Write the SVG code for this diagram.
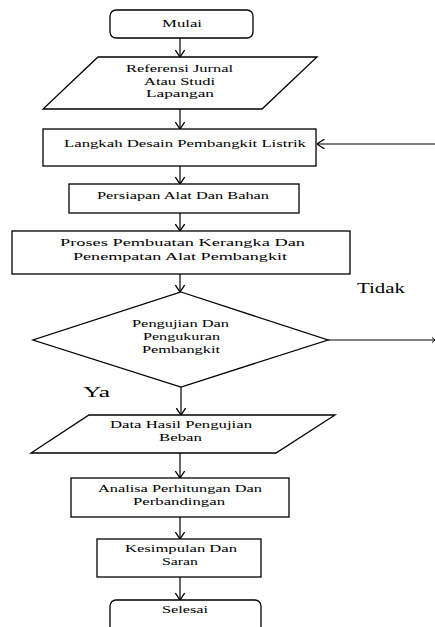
<svg xmlns="http://www.w3.org/2000/svg" width="435" height="627" viewBox="0 0 435 627">
<style>
.s{fill:#fff;stroke:#000;stroke-width:1.3}
.c{fill:none;stroke:#000;stroke-width:1.2}
text{font-family:"Liberation Serif","DejaVu Serif",serif;fill:#000}
.t{font-size:11px;text-anchor:middle}
.l{font-size:15px}
</style>
<defs>
<marker id="ah" viewBox="0 0 8 10" refX="7.5" refY="5" markerWidth="8" markerHeight="10" markerUnits="userSpaceOnUse" orient="auto">
<path d="M0,0 L7.5,5 L0,10" fill="none" stroke="#000" stroke-width="1.3"/>
</marker>
<marker id="ahs" viewBox="0 0 4 6" refX="3.5" refY="3" markerWidth="4" markerHeight="6" markerUnits="userSpaceOnUse" orient="auto">
<path d="M0,0 L3.5,3 L0,6" fill="none" stroke="#000" stroke-width="1"/>
</marker>
</defs>
<rect width="435" height="627" fill="#fff"/>
<g id="connectors">
<line class="c" x1="180" y1="38" x2="180" y2="57" marker-end="url(#ah)"/>
<line class="c" x1="180" y1="109" x2="180" y2="129" marker-end="url(#ah)"/>
<line class="c" x1="180" y1="166" x2="180" y2="184" marker-end="url(#ah)"/>
<line class="c" x1="180" y1="213" x2="180" y2="231" marker-end="url(#ah)"/>
<line class="c" x1="180" y1="274" x2="180" y2="292" marker-end="url(#ah)"/>
<line class="c" x1="181" y1="387" x2="181" y2="415" marker-end="url(#ah)"/>
<line class="c" x1="180" y1="453" x2="180" y2="478" marker-end="url(#ah)"/>
<line class="c" x1="180" y1="517" x2="180" y2="539" marker-end="url(#ah)"/>
<line class="c" x1="180" y1="577" x2="180" y2="600" marker-end="url(#ah)"/>
<line class="c" x1="435" y1="144" x2="317" y2="144" marker-end="url(#ah)"/>
<line class="c" x1="328" y1="340" x2="435" y2="340" marker-end="url(#ahs)"/>
<text class="l" x="357" y="293" textLength="48" lengthAdjust="spacingAndGlyphs">Tidak</text>
<text class="l" x="83" y="397" textLength="27" lengthAdjust="spacingAndGlyphs">Ya</text>
</g>
<g id="mulai">
<rect class="s" x="110" y="10" width="143" height="28" rx="6"/>
<text class="t" x="182" y="27" textLength="40" lengthAdjust="spacingAndGlyphs">Mulai</text>
</g>
<g id="referensi">
<polygon class="s" points="98,57 317,57 262,109 43,109"/>
<text class="t" x="179.5" y="72" textLength="107" lengthAdjust="spacingAndGlyphs">Referensi Jurnal</text>
<text class="t" x="179.5" y="85" textLength="71" lengthAdjust="spacingAndGlyphs">Atau Studi</text>
<text class="t" x="180" y="97" textLength="68" lengthAdjust="spacingAndGlyphs">Lapangan</text>
</g>
<g id="langkah">
<rect class="s" x="43" y="129" width="273" height="37"/>
<text class="t" x="185" y="147" textLength="242" lengthAdjust="spacingAndGlyphs">Langkah Desain Pembangkit Listrik</text>
</g>
<g id="persiapan">
<rect class="s" x="69" y="184" width="230" height="29"/>
<text class="t" x="183" y="199" textLength="172" lengthAdjust="spacingAndGlyphs">Persiapan Alat Dan Bahan</text>
</g>
<g id="proses">
<rect class="s" x="12" y="231" width="338" height="43"/>
<text class="t" x="182.5" y="246" textLength="245" lengthAdjust="spacingAndGlyphs">Proses Pembuatan Kerangka Dan</text>
<text class="t" x="180" y="260" textLength="214" lengthAdjust="spacingAndGlyphs">Penempatan Alat Pembangkit</text>
</g>
<g id="pengujian">
<polygon class="s" points="181,292 328,340 181,387 33,340"/>
<text class="t" x="180.5" y="327" textLength="97" lengthAdjust="spacingAndGlyphs">Pengujian Dan</text>
<text class="t" x="181.5" y="340" textLength="77" lengthAdjust="spacingAndGlyphs">Pengukuran</text>
<text class="t" x="181" y="353" textLength="78" lengthAdjust="spacingAndGlyphs">Pembangkit</text>
</g>
<g id="data">
<polygon class="s" points="89,415 335,415 276,453 31,453"/>
<text class="t" x="181" y="428" textLength="142" lengthAdjust="spacingAndGlyphs">Data Hasil Pengujian</text>
<text class="t" x="180.5" y="441" textLength="43" lengthAdjust="spacingAndGlyphs">Beban</text>
</g>
<g id="analisa">
<rect class="s" x="71" y="478" width="218" height="39"/>
<text class="t" x="180" y="492" textLength="164" lengthAdjust="spacingAndGlyphs">Analisa Perhitungan Dan</text>
<text class="t" x="179" y="505" textLength="92" lengthAdjust="spacingAndGlyphs">Perbandingan</text>
</g>
<g id="kesimpulan">
<rect class="s" x="97" y="539" width="164" height="38"/>
<text class="t" x="181" y="552" textLength="112" lengthAdjust="spacingAndGlyphs">Kesimpulan Dan</text>
<text class="t" x="180" y="565" textLength="36" lengthAdjust="spacingAndGlyphs">Saran</text>
</g>
<g id="selesai">
<rect class="s" x="110" y="600" width="151" height="40" rx="6"/>
<text class="t" x="185" y="613" textLength="46" lengthAdjust="spacingAndGlyphs">Selesai</text>
</g>
</svg>
